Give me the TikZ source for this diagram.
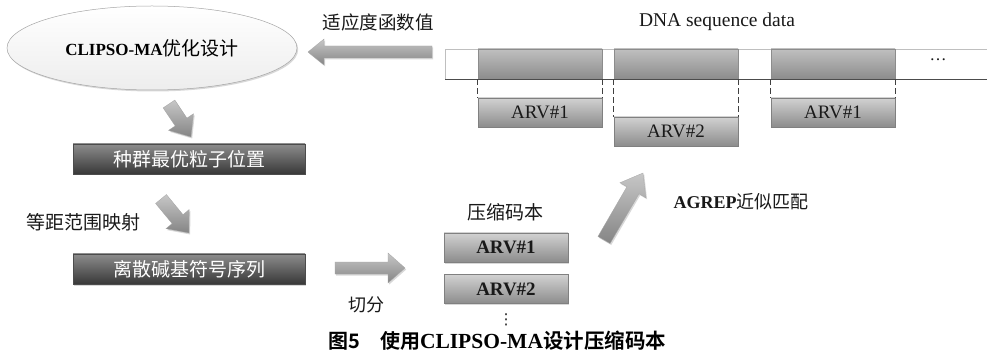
\documentclass[tikz,border=0pt]{standalone}
\usepackage{fontspec}
\setmainfont{Liberation Serif}
\newfontfamily\cjk{Noto Sans CJK SC}
\newfontfamily\cjkb{Noto Sans CJK SC Bold}
\newfontfamily\symfont{DejaVu Sans}
\usetikzlibrary{calc,shadows,shapes.geometric}

\newcommand\fs[1]{\fontsize{#1}{#1}\selectfont}

\tikzset{
  softshadow/.style={drop shadow={shadow xshift=1.2pt, shadow yshift=-1.5pt, opacity=0.3}},
  oval/.style={ellipse, draw=black!35, line width=0.5pt, top color=white, bottom color=black!7,
    minimum width=290pt, minimum height=84pt, inner sep=0pt, softshadow},
  darkbox/.style={draw=black!70, line width=0.4pt, top color=black!45, bottom color=black!78,
    minimum width=232pt, minimum height=30pt, inner sep=0pt, text=white, font=\cjk\fs{19}, softshadow},
  blockcell/.style={draw=black!45, line width=0.4pt, top color=black!25, bottom color=black!45,
    minimum width=124pt, minimum height=30pt, inner sep=0pt},
  arvbox/.style={draw=black!50, line width=0.4pt, top color=black!18, bottom color=black!45,
    minimum width=124pt, minimum height=29pt, inner sep=0pt, font=\fs{19}, text=black!90, softshadow},
  label/.style={inner sep=0pt, text=black!90},
  dashline/.style={draw=black!75, line width=0.9pt, dash pattern=on 6pt off 3pt},
  bigarrowstyle/.style={draw=black!35, line width=0.3pt, top color=black!22, bottom color=black!48, softshadow},
}

\newcommand\blockarrow[5]{%
  \path[bigarrowstyle] ($(#1)!#3!90:(#2)$)
    -- ($($(#2)!#5!(#1)$)!#3!-90:(#1)$)
    -- ($($(#2)!#5!(#1)$)!#4!-90:(#1)$)
    -- (#2)
    -- ($($(#2)!#5!(#1)$)!#4!90:(#1)$)
    -- ($($(#2)!#5!(#1)$)!#3!90:(#1)$)
    -- ($(#1)!#3!-90:(#2)$) -- cycle;}

\begin{document}
\begin{tikzpicture}[x=1pt,y=-1pt]
\useasboundingbox[fill=white] (0,0) rectangle (987,355);

% left column
\node[oval] (opt) at (152,48) {\raisebox{-3pt}{{\bfseries\fs{17}CLIPSO-MA}{\cjk\fs{19}优化设计}}};
\node[darkbox] (gbest) at (189,159) {种群最优粒子位置};
\node[darkbox] (seq) at (189,269) {离散碱基符号序列};
\node[label, font=\cjk\fs{19}] (mapl) at (83,222) {等距范围映射};
\node[label, font=\cjk\fs{18.5}] (fitl) at (378,22) {适应度函数值};

% DNA sequence bar
\node[label, font=\fs{19.5}] (dnal) at (717,22) {DNA sequence data};
\fill[white, drop shadow={shadow xshift=0pt, shadow yshift=-1.5pt, opacity=0.25}] (445,49) rectangle (990,79);
\draw[black!25, line width=0.5pt] (990,49) -- (445,49) -- (445,79);
\node[blockcell] (blk1) at (540,64) {};
\node[blockcell] (blk2) at (676,64) {};
\node[blockcell] (blk3) at (833,64) {};
\draw[black!70, line width=0.9pt] (445,79) -- (990,79);
\node[label, font=\fs{17}] (dots) at (938,60) {…};

\node[arvbox] (s1) at (540,112.5) {ARV\#1};
\node[arvbox] (s2) at (676,131.5) {ARV\#2};
\node[arvbox] (s3) at (833,112.5) {ARV\#1};
\draw[dashline] (blk1.south west) -- (s1.north west);
\draw[dashline] (blk1.south east) -- (s1.north east);
\draw[dashline] (blk2.south west) -- (s2.north west);
\draw[dashline] (blk2.south east) -- (s2.north east);
\draw[dashline] (blk3.south west) -- (s3.north west);
\draw[dashline] (blk3.south east) -- (s3.north east);

% code book
\node[label, font=\cjk\fs{19}] (cbl) at (505,212) {压缩码本};
\node[arvbox, font=\bfseries\fs{19}] (c1) at (506,247.5) {ARV\#1};
\node[arvbox, font=\bfseries\fs{19}] (c2) at (506,289) {ARV\#2};
\node[label, font=\symfont\fs{15}] (vd) at (506,320) {⋮};
\node[label, font=\cjk\fs{18}] (cut) at (366,305) {切分};
\node[label] (agrep) at (741,202) {{\bfseries\fs{18}AGREP}{\cjk\fs{18}近似匹配}};

% caption
\node[label, anchor=west, text=black] (cap) at (328,341)
  {{\cjkb\fs{20}图5}\hspace{20pt}{\cjkb\fs{20}使用}{\bfseries\fs{21.5}CLIPSO-MA}{\cjkb\fs{20.5}设计压缩码本}};

% block arrows
\coordinate (a0s) at (432,52);  \coordinate (a0e) at (308,52);
\coordinate (a1s) at (169,104); \coordinate (a1e) at (191,137);
\coordinate (a2s) at (161,199); \coordinate (a2e) at (189,233);
\coordinate (a3s) at (335,268); \coordinate (a3e) at (405,268);
\coordinate (a4s) at (604,240); \coordinate (a4e) at (643,173);
\blockarrow{a0s}{a0e}{6pt}{13pt}{16pt}
\blockarrow{a1s}{a1e}{7pt}{15pt}{18pt}
\blockarrow{a2s}{a2e}{7pt}{15pt}{18pt}
\blockarrow{a3s}{a3e}{6pt}{15pt}{17pt}
\blockarrow{a4s}{a4e}{7pt}{15pt}{20pt}
\end{tikzpicture}
\end{document}
